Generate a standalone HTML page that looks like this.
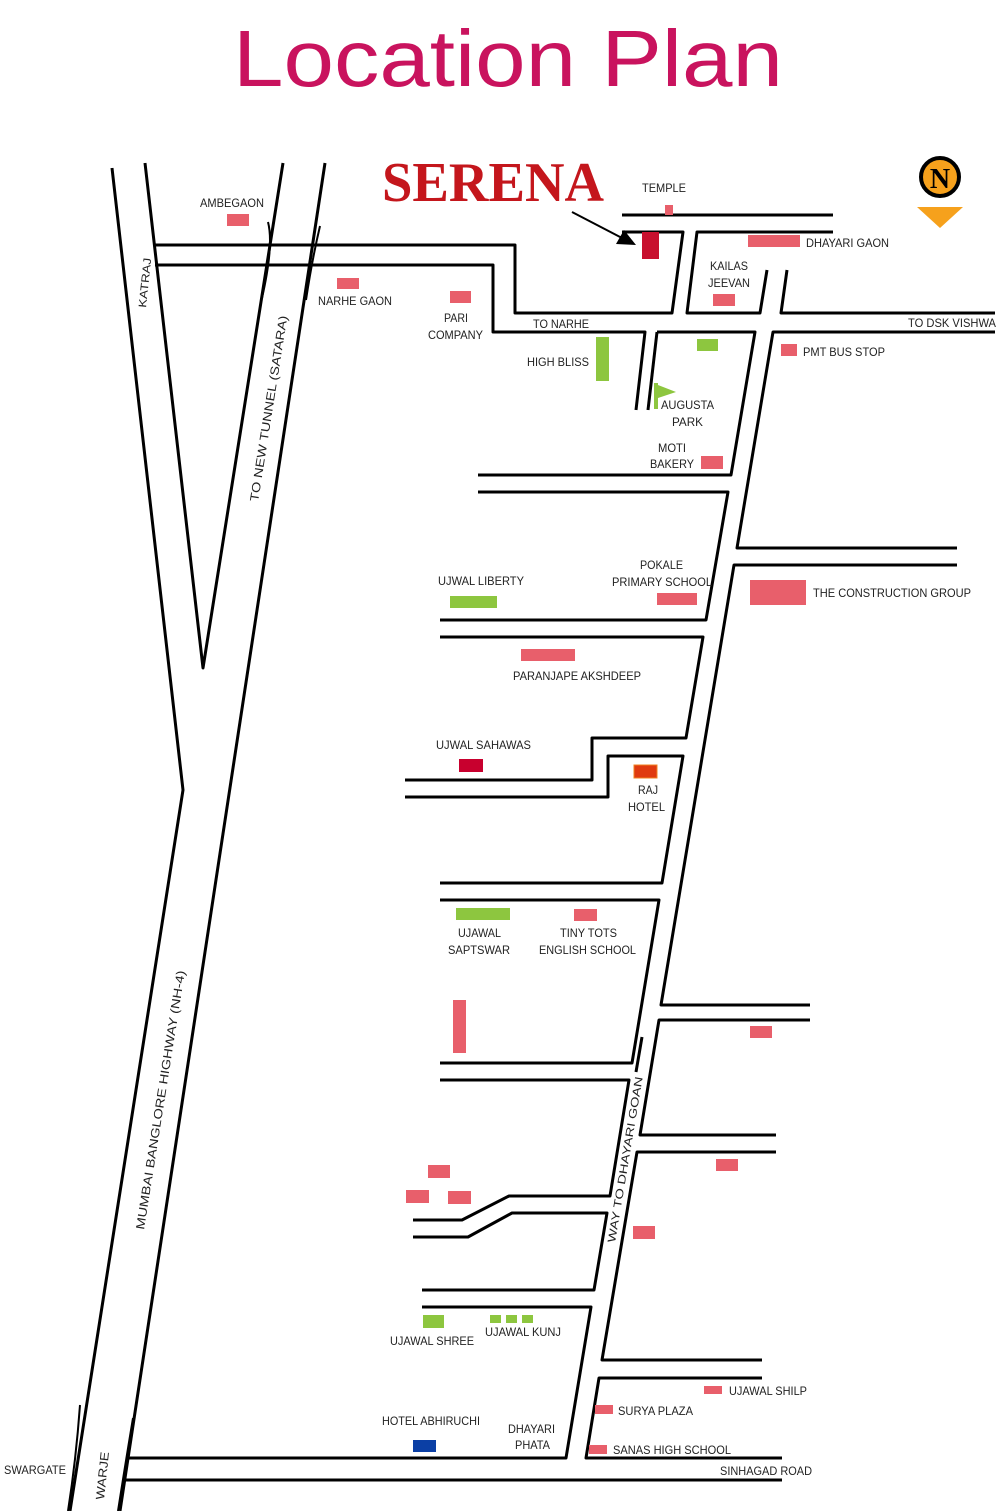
<!DOCTYPE html>
<html><head><meta charset="utf-8"><style>
html,body{margin:0;padding:0;background:#fff;}
svg{display:block;}
text{font-family:"Liberation Sans",sans-serif;font-size:12px;fill:#222;}
.p{fill:#e85f6b;}
.g{fill:#8dc63f;}
</style></head><body>
<svg width="1000" height="1511" viewBox="0 0 1000 1511" xmlns="http://www.w3.org/2000/svg">
<text x="233" y="86" style="font-size:80px;fill:#c9135e" textLength="550" lengthAdjust="spacingAndGlyphs">Location Plan</text>
<text x="382" y="201" style="font-family:'Liberation Serif',serif;font-weight:bold;font-size:56px;fill:#c4161c" textLength="222" lengthAdjust="spacingAndGlyphs">SERENA</text>
<g stroke="#000" stroke-width="3" fill="none" stroke-linejoin="round">
<polyline points="112,168 183,790 70,1511"/>
<polyline points="145,163 203,668 283,163"/>
<line x1="325" y1="163" x2="120" y2="1511"/>
<polyline points="155,245 515,245 515,313 672,313 683,232 622,232"/>
<polyline points="155,265 493,265 493,332 645,332 636,410"/>
<line x1="622" y1="215" x2="833" y2="215"/>
<polyline points="833,232 697,232 687,313 760,313 767,270"/>
<polyline points="787,270 781,313 995,313"/>
<polyline points="995,332 773,332 737,548 957,548"/>
<polyline points="657,332 755,332 731,475 478,475"/>
<line x1="657" y1="332" x2="648" y2="410"/>
<polyline points="478,492 728,492 706,620 440,620"/>
<polyline points="440,637 703,637 686,738 592,738 592,780 405,780"/>
<polyline points="405,797 608,797 608,756 683,756 662,883 440,883"/>
<polyline points="440,900 659,900 632,1063 440,1063"/>
<polyline points="440,1080 629,1080 610,1196 509,1196 462,1220 413,1220"/>
<polyline points="413,1237 468,1237 512,1213 607,1213 594,1290 422,1290"/>
<polyline points="422,1307 591,1307 566,1458 128,1458"/>
<line x1="125" y1="1480" x2="782" y2="1480"/>
<polyline points="782,1458 586,1458 599,1378 762,1378"/>
<polyline points="957,565 734,565 661,1005 810,1005"/>
<polyline points="810,1020 659,1020 640,1135 776,1135"/>
<polyline points="776,1152 637,1152 602,1360 762,1360"/>
<line x1="642" y1="1037" x2="636" y2="1072"/>
</g>
<g stroke="#000" stroke-width="2" fill="none">
<path d="M268,222 Q274,245 262,298"/>
<path d="M320,226 Q312,260 306,300"/>
<path d="M80,1405 Q76,1460 68,1511"/>
<path d="M133,1418 Q126,1460 118,1511"/>
<line x1="572" y1="212" x2="622" y2="238"/>
</g>
<polygon points="636,245 616,244 624,230" fill="#000"/>
<circle cx="940" cy="177" r="19" fill="#f6a11c" stroke="#000" stroke-width="4"/>
<text x="940" y="188" text-anchor="middle" style="font-family:'Liberation Serif',serif;font-size:28px;font-weight:bold;fill:#000">N</text>
<polygon points="917,207 963,207 940,228" fill="#f6a11c"/>
<rect class="p" x="227" y="214" width="22" height="12"/>
<rect class="p" x="337" y="278" width="22" height="11"/>
<rect class="p" x="450" y="291" width="21" height="12"/>
<rect x="642" y="232" width="17" height="27" fill="#c8102e"/>
<rect class="p" x="665" y="205" width="8" height="10"/>
<rect class="p" x="748" y="235" width="52" height="12"/>
<rect class="p" x="713" y="294" width="22" height="12"/>
<rect class="g" x="697" y="339" width="21" height="12"/>
<rect class="g" x="596" y="337" width="13" height="44"/>
<rect class="g" x="654" y="383" width="4" height="26"/>
<polygon class="g" points="658,385 676,392 658,398"/>
<rect class="p" x="781" y="344" width="16" height="12"/>
<rect class="p" x="701" y="456" width="22" height="13"/>
<rect class="p" x="657" y="593" width="40" height="12"/>
<rect class="g" x="450" y="596" width="47" height="12"/>
<rect class="p" x="750" y="580" width="56" height="25"/>
<rect class="p" x="521" y="649" width="54" height="12"/>
<rect x="459" y="759" width="24" height="13" fill="#c8002e"/>
<rect x="634" y="765" width="23" height="13" fill="#e03a10" stroke="#f08020" stroke-width="1"/>
<rect class="g" x="456" y="908" width="54" height="12"/>
<rect class="p" x="574" y="909" width="23" height="12"/>
<rect class="p" x="453" y="1000" width="13" height="53"/>
<rect class="p" x="750" y="1026" width="22" height="12"/>
<rect class="p" x="428" y="1165" width="22" height="13"/>
<rect class="p" x="406" y="1190" width="23" height="13"/>
<rect class="p" x="448" y="1191" width="23" height="13"/>
<rect class="p" x="716" y="1159" width="22" height="12"/>
<rect class="p" x="633" y="1226" width="22" height="13"/>
<rect class="g" x="423" y="1315" width="21" height="13"/>
<rect class="g" x="490" y="1315" width="11" height="8"/>
<rect class="g" x="506" y="1315" width="11" height="8"/>
<rect class="g" x="522" y="1315" width="11" height="8"/>
<rect class="p" x="704" y="1386" width="18" height="8"/>
<rect class="p" x="595" y="1405" width="18" height="9"/>
<rect class="p" x="589" y="1445" width="18" height="9"/>
<rect x="413" y="1440" width="23" height="12" fill="#0b3fa5"/>
<g>
<text x="200" y="207" textLength="64" lengthAdjust="spacingAndGlyphs">AMBEGAON</text>
<text x="318" y="305" textLength="74" lengthAdjust="spacingAndGlyphs">NARHE GAON</text>
<text x="444" y="322" textLength="24" lengthAdjust="spacingAndGlyphs">PARI</text>
<text x="428" y="339" textLength="55" lengthAdjust="spacingAndGlyphs">COMPANY</text>
<text x="533" y="328" textLength="56" lengthAdjust="spacingAndGlyphs">TO NARHE</text>
<text x="527" y="366" textLength="62" lengthAdjust="spacingAndGlyphs">HIGH BLISS</text>
<text x="642" y="192" textLength="44" lengthAdjust="spacingAndGlyphs">TEMPLE</text>
<text x="806" y="247" textLength="83" lengthAdjust="spacingAndGlyphs">DHAYARI GAON</text>
<text x="710" y="270" textLength="38" lengthAdjust="spacingAndGlyphs">KAILAS</text>
<text x="708" y="287" textLength="42" lengthAdjust="spacingAndGlyphs">JEEVAN</text>
<text x="908" y="327" textLength="88" lengthAdjust="spacingAndGlyphs">TO DSK VISHWA</text>
<text x="803" y="356" textLength="82" lengthAdjust="spacingAndGlyphs">PMT BUS STOP</text>
<text x="661" y="409" textLength="53" lengthAdjust="spacingAndGlyphs">AUGUSTA</text>
<text x="672" y="426" textLength="31" lengthAdjust="spacingAndGlyphs">PARK</text>
<text x="658" y="452" textLength="28" lengthAdjust="spacingAndGlyphs">MOTI</text>
<text x="650" y="468" textLength="44" lengthAdjust="spacingAndGlyphs">BAKERY</text>
<text x="640" y="569" textLength="43" lengthAdjust="spacingAndGlyphs">POKALE</text>
<text x="612" y="586" textLength="100" lengthAdjust="spacingAndGlyphs">PRIMARY SCHOOL</text>
<text x="438" y="585" textLength="86" lengthAdjust="spacingAndGlyphs">UJWAL LIBERTY</text>
<text x="813" y="597" textLength="158" lengthAdjust="spacingAndGlyphs">THE CONSTRUCTION GROUP</text>
<text x="513" y="680" textLength="128" lengthAdjust="spacingAndGlyphs">PARANJAPE AKSHDEEP</text>
<text x="436" y="749" textLength="95" lengthAdjust="spacingAndGlyphs">UJWAL SAHAWAS</text>
<text x="638" y="794" textLength="20" lengthAdjust="spacingAndGlyphs">RAJ</text>
<text x="628" y="811" textLength="37" lengthAdjust="spacingAndGlyphs">HOTEL</text>
<text x="458" y="937" textLength="43" lengthAdjust="spacingAndGlyphs">UJAWAL</text>
<text x="448" y="954" textLength="62" lengthAdjust="spacingAndGlyphs">SAPTSWAR</text>
<text x="560" y="937" textLength="57" lengthAdjust="spacingAndGlyphs">TINY TOTS</text>
<text x="539" y="954" textLength="97" lengthAdjust="spacingAndGlyphs">ENGLISH SCHOOL</text>
<text x="390" y="1345" textLength="84" lengthAdjust="spacingAndGlyphs">UJAWAL SHREE</text>
<text x="485" y="1336" textLength="76" lengthAdjust="spacingAndGlyphs">UJAWAL KUNJ</text>
<text x="729" y="1395" textLength="78" lengthAdjust="spacingAndGlyphs">UJAWAL SHILP</text>
<text x="618" y="1415" textLength="75" lengthAdjust="spacingAndGlyphs">SURYA PLAZA</text>
<text x="382" y="1425" textLength="98" lengthAdjust="spacingAndGlyphs">HOTEL ABHIRUCHI</text>
<text x="508" y="1433" textLength="47" lengthAdjust="spacingAndGlyphs">DHAYARI</text>
<text x="515" y="1449" textLength="35" lengthAdjust="spacingAndGlyphs">PHATA</text>
<text x="613" y="1454" textLength="118" lengthAdjust="spacingAndGlyphs">SANAS HIGH SCHOOL</text>
<text x="720" y="1475" textLength="92" lengthAdjust="spacingAndGlyphs">SINHAGAD ROAD</text>
<text x="4" y="1474" textLength="62" lengthAdjust="spacingAndGlyphs">SWARGATE</text>
<text transform="translate(104,1500) rotate(-84)" textLength="48" lengthAdjust="spacingAndGlyphs">WARJE</text>
<text transform="translate(146,308) rotate(-84)" style="font-size:11px" textLength="50" lengthAdjust="spacingAndGlyphs">KATRAJ</text>
<text transform="translate(258,502) rotate(-81)" textLength="188" lengthAdjust="spacingAndGlyphs">TO NEW TUNNEL (SATARA)</text>
<text transform="translate(144,1230) rotate(-81)" textLength="262" lengthAdjust="spacingAndGlyphs">MUMBAI BANGLORE HIGHWAY (NH-4)</text>
<text transform="translate(615,1243) rotate(-80.5)" style="font-size:11px" textLength="168" lengthAdjust="spacingAndGlyphs">WAY TO DHAYARI GOAN</text>
</g>
</svg>
</body></html>
